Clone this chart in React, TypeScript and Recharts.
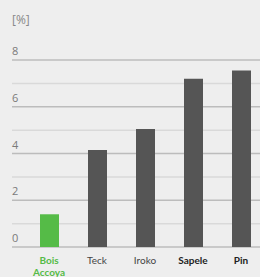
import { Bar, BarChart, CartesianGrid, Cell, XAxis, YAxis } from 'recharts'

const woods = ['Bois Accoya', 'Teck', 'Iroko', 'Sapele', 'Pin']
const values = [1.4, 4.15, 5.05, 7.2, 7.55]
const barColors = ['#55bb47', '#555555', '#555555', '#555555', '#555555']
const labelColors = ['#55bb47', '#444444', '#444444', '#222222', '#222222']
const labelWeights = [700, 400, 400, 700, 700]
const majorTicks = [0, 2, 4, 6, 8]
const minorTicks = [1, 3, 5, 7]

const data = woods.map((name, i) => ({ name, value: values[i] }))

const font = '"Open Sans", "DejaVu Sans", sans-serif'
const labelFont = 'Lato, "Open Sans", sans-serif'

function YTick({ y, payload }: any) {
  return (
    <text x={12} y={y - 5} textAnchor="start" fill="#7a7a7a" fontSize={11} fontFamily={font}>
      {payload.value}
    </text>
  )
}

function XTick({ x, y, payload, index }: any) {
  const words = String(payload.value).split(' ')
  return (
    <text
      x={x}
      y={y}
      textAnchor="middle"
      fill={labelColors[index]}
      fontSize={10}
      fontWeight={labelWeights[index]}
      fontFamily={labelFont}
    >
      {words.map((w, i) => (
        <tspan key={i} x={x} dy={i === 0 ? 9 : 12}>
          {w}
        </tspan>
      ))}
    </text>
  )
}

export default function App() {
  return (
    <div style={{ position: 'absolute', left: 0, top: 0, width: 260, height: 277, overflow: 'hidden', background: '#eeeeee' }}>
      <div style={{ position: 'absolute', left: 12, top: 11, fontSize: 12, color: '#888888', fontFamily: font }}>[%]</div>
      <BarChart width={265} height={277} data={data} margin={{ top: 60, right: 0, bottom: 0, left: 0 }}>
        <CartesianGrid vertical={false} horizontalValues={minorTicks} stroke="#d9d9d9" strokeWidth={1.5} />
        <CartesianGrid vertical={false} horizontalValues={majorTicks} stroke="#bcbcbc" strokeWidth={1.5} />
        <XAxis
          dataKey="name"
          height={30}
          axisLine={false}
          tickLine={false}
          padding={{ left: 13, right: 0 }}
          interval={0}
          tick={<XTick />}
        />
        <YAxis width={12} domain={[0, 8]} ticks={majorTicks} axisLine={false} tickLine={false} tick={<YTick />} />
        <Bar dataKey="value" barSize={19} isAnimationActive={false}>
          {data.map((d, i) => (
            <Cell key={d.name} fill={barColors[i]} />
          ))}
        </Bar>
      </BarChart>
    </div>
  )
}
